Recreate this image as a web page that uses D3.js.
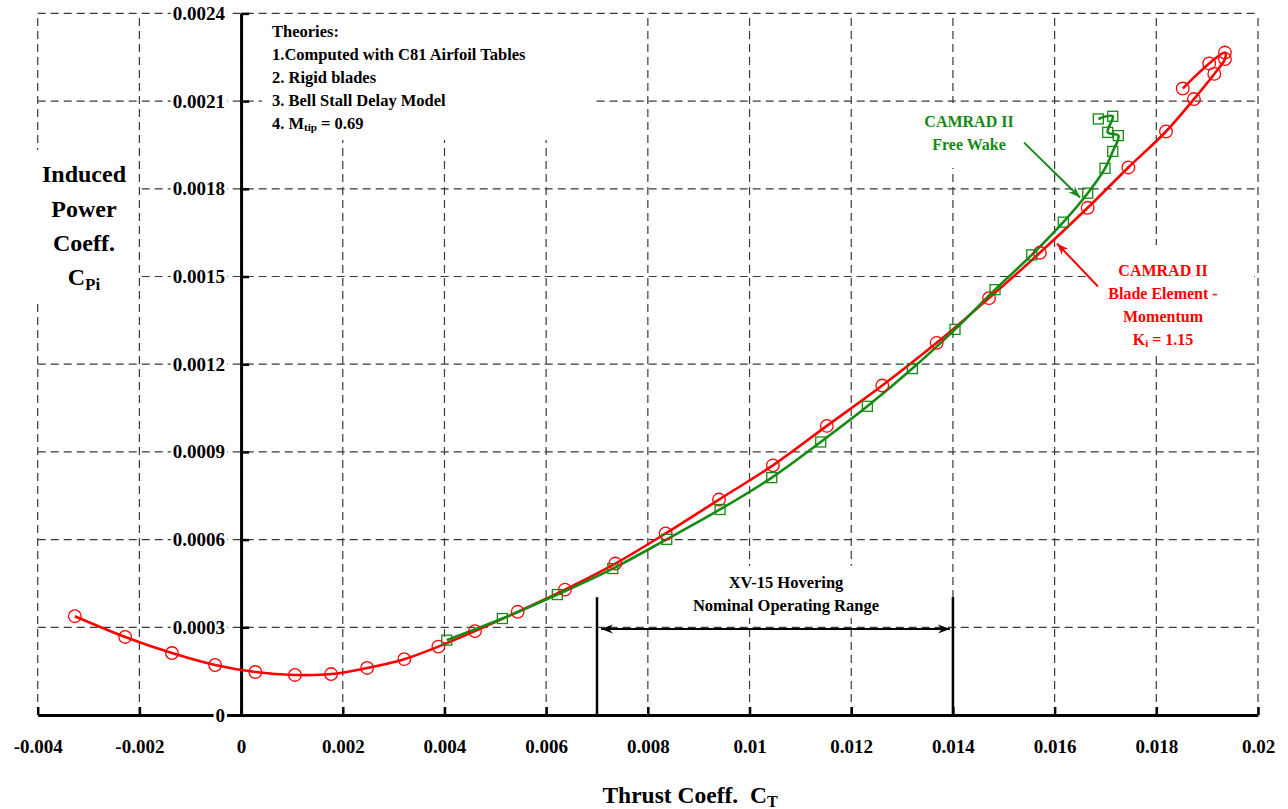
<!DOCTYPE html>
<html>
  <head>
    <title>Induced Power vs Thrust</title>
    <script src="https://cdn.jsdelivr.net/npm/d3@7"></script>
    <style>
      body { margin: 0; background: #fff; }
      text { font-family: "Liberation Serif", "Times New Roman", serif; font-weight: bold; }
    </style>
  </head>
  <body>
    <svg width="1288" height="809" id="mainsvg"></svg>
    <script>
        // CAMRAD II blade element - momentum (red circles)
        const bemCT = [-0.00327, -0.00228, -0.00136, -0.00051, 0.00028, 0.00106, 0.00177, 0.00248,
          0.00321, 0.00388, 0.0046, 0.00544, 0.00637, 0.00736, 0.00835, 0.0094, 0.01046, 0.01152,
          0.01261, 0.01368, 0.01471, 0.01571, 0.01665, 0.01745, 0.01819, 0.01874, 0.01914, 0.01935,
          0.01935, 0.01904, 0.01852];
        const bemCP = [0.000338, 0.000267, 0.000212, 0.000171, 0.000147, 0.000137, 0.00014, 0.000161,
          0.000191, 0.000234, 0.000287, 0.000353, 0.000429, 0.000518, 0.000621, 0.000737, 0.000854, 0.000989,
          0.001127, 0.001273, 0.001426, 0.001581, 0.001735, 0.001873, 0.001996, 0.002107, 0.002193, 0.002244,
          0.002266, 0.002229, 0.002143];
        // CAMRAD II free wake (green squares)
        const fwCT = [0.004045, 0.005139, 0.00622, 0.00731, 0.008372, 0.00942, 0.010437, 0.0114,
          0.012317, 0.013202, 0.014041, 0.014828, 0.01555, 0.016171, 0.016651, 0.016991, 0.017143,
          0.017253, 0.017044, 0.017143, 0.01686];
        const fwCP = [0.000256, 0.00033, 0.000412, 0.000501, 0.000601, 0.000703, 0.000812, 0.000934,
          0.001056, 0.001185, 0.001319, 0.001455, 0.001574, 0.001686, 0.001785, 0.00187, 0.001928,
          0.001982, 0.001993, 0.002048, 0.002039];

        const xTicks = [-0.004, -0.002, 0, 0.002, 0.004, 0.006, 0.008, 0.01, 0.012, 0.014, 0.016, 0.018, 0.02];
        const xTickLabels = ['-0.004', '-0.002', '0', '0.002', '0.004', '0.006', '0.008', '0.01', '0.012', '0.014', '0.016', '0.018', '0.02'];
        const yTicks = [0, 0.0003, 0.0006, 0.0009, 0.0012, 0.0015, 0.0018, 0.0021, 0.0024];
        const yTickLabels = ['0', '0.0003', '0.0006', '0.0009', '0.0012', '0.0015', '0.0018', '0.0021', '0.0024'];

        const theories = ['Theories:', '1.Computed with C81 Airfoil Tables', '2. Rigid blades', '3. Bell Stall Delay Model'];
        const operatingRange = [0.007, 0.014];

        const svg = d3.select('#mainsvg');
        const red = '#ff0000', green = '#158a15';

        const x = d3.scaleLinear().domain([-0.004, 0.02]).range([37.7, 1258]);
        const y = d3.scaleLinear().domain([0, 0.0024]).range([715, 13.4]);

        // grid
        const grid = svg.append('g').attr('stroke', '#3a3a3a').attr('stroke-width', 1.2)
          .attr('stroke-dasharray', '8,5');
        grid.selectAll('.vg').data(xTicks).join('line').attr('class', 'vg')
          .attr('x1', d => x(d)).attr('x2', d => x(d)).attr('y1', y(0)).attr('y2', y(0.0024));
        grid.selectAll('.hg').data(yTicks).join('line').attr('class', 'hg')
          .attr('y1', d => y(d)).attr('y2', d => y(d)).attr('x1', x(-0.004)).attr('x2', x(0.02));

        // white boxes that hide the grid under the text blocks
        const boxes = [[262, 15, 330, 125], [28, 150, 109, 153], [912, 103, 118, 65], [1088, 245, 166, 111], [688, 566, 198, 52]];
        svg.append('g').selectAll('rect').data(boxes).join('rect')
          .attr('x', d => d[0]).attr('y', d => d[1]).attr('width', d => d[2]).attr('height', d => d[3])
          .attr('fill', '#fff');

        // axes
        const xAxis = svg.append('g').attr('transform', `translate(0,${y(0)})`)
          .call(d3.axisBottom(x).tickValues(xTicks).tickFormat((d, i) => xTickLabels[i])
            .tickSizeInner(-8).tickSizeOuter(0).tickPadding(25));
        xAxis.select('.domain').attr('stroke', '#000').attr('stroke-width', 3);
        xAxis.selectAll('.tick line').attr('stroke', '#000').attr('stroke-width', 2.5);
        xAxis.selectAll('.tick text').attr('font-size', 19).attr('font-family', '"Liberation Serif", serif')
          .attr('font-weight', 'bold').attr('fill', '#000');

        const yAxis = svg.append('g').attr('transform', `translate(${x(0)},0)`)
          .call(d3.axisLeft(y).tickValues(yTicks).tickFormat((d, i) => yTickLabels[i])
            .tickSizeInner(-8).tickSizeOuter(0).tickPadding(16));
        yAxis.select('.domain').attr('stroke', '#000').attr('stroke-width', 3);
        yAxis.selectAll('.tick line').attr('stroke', '#000').attr('stroke-width', 2.5);
        yAxis.selectAll('.tick text').attr('font-size', 19).attr('font-family', '"Liberation Serif", serif')
          .attr('font-weight', 'bold').attr('fill', '#000');
        yAxis.selectAll('.tick').each(function () {
          const t = d3.select(this).select('text');
          const b = t.node().getBBox();
          d3.select(this).insert('rect', 'text')
            .attr('x', b.x - 2).attr('y', b.y + 2).attr('width', b.width + 4).attr('height', b.height - 4)
            .attr('fill', '#fff');
        });

        // arrow markers
        const defs = svg.append('defs');
        [['arrRed', red], ['arrGreen', green], ['arrBlack', '#000']].forEach(([id, c]) => {
          defs.append('marker').attr('id', id).attr('viewBox', '-12 -6 14 12')
            .attr('refX', 0).attr('refY', 0).attr('markerWidth', 14).attr('markerHeight', 12)
            .attr('markerUnits', 'userSpaceOnUse').attr('orient', 'auto-start-reverse')
            .append('path').attr('d', 'M0,0 L-12,-4.5 L-8,0 L-12,4.5 Z').attr('fill', c);
        });

        // curves
        const bem = bemCT.map((d, i) => [d, bemCP[i]]);
        const fw = fwCT.map((d, i) => [d, fwCP[i]]);
        const line = d3.line().x(d => x(d[0])).y(d => y(d[1])).curve(d3.curveCatmullRom.alpha(0.5));

        svg.append('path').datum(bem).attr('d', line).attr('fill', 'none')
          .attr('stroke', red).attr('stroke-width', 2.6);
        svg.append('path').datum(fw).attr('d', line).attr('fill', 'none')
          .attr('stroke', green).attr('stroke-width', 2.6);

        svg.append('g').selectAll('circle').data(bem).join('circle')
          .attr('cx', d => x(d[0])).attr('cy', d => y(d[1])).attr('r', 6.3)
          .attr('fill', 'none').attr('stroke', red).attr('stroke-width', 1.3);
        svg.append('g').selectAll('rect').data(fw).join('rect')
          .attr('x', d => x(d[0]) - 5).attr('y', d => y(d[1]) - 5).attr('width', 10).attr('height', 10)
          .attr('fill', 'none').attr('stroke', green).attr('stroke-width', 1.3);

        // theories legend
        const leg = svg.append('g').attr('font-size', 16.5).attr('fill', '#000');
        theories.forEach((t, i) => leg.append('text').attr('x', 272).attr('y', 37 + i * 23).text(t));
        const m = leg.append('text').attr('x', 272).attr('y', 37 + 4 * 23);
        m.append('tspan').text('4. M');
        m.append('tspan').attr('font-size', 11).attr('dy', 2).text('tip');
        m.append('tspan').attr('dy', -2).text(' = 0.69');

        // axis titles
        const yt = svg.append('g').attr('font-size', 24).attr('text-anchor', 'middle').attr('fill', '#000');
        ['Induced', 'Power', 'Coeff.'].forEach((t, i) => yt.append('text').attr('x', 84).attr('y', 182 + i * 34.5).text(t));
        const cpi = yt.append('text').attr('x', 84).attr('y', 285);
        cpi.append('tspan').text('C');
        cpi.append('tspan').attr('font-size', 17).attr('dy', 5).text('Pi');

        const xt = svg.append('text').attr('x', 690).attr('y', 803).attr('font-size', 23.5)
          .attr('text-anchor', 'middle').attr('fill', '#000');
        xt.append('tspan').text('Thrust Coeff.\u00a0\u00a0C');
        xt.append('tspan').attr('font-size', 16).attr('dy', 4).text('T');

        // free wake annotation
        const gl = svg.append('g').attr('font-size', 16).attr('text-anchor', 'middle').attr('fill', green);
        gl.append('text').attr('x', 969).attr('y', 127).text('CAMRAD II');
        gl.append('text').attr('x', 969).attr('y', 150).text('Free Wake');
        svg.append('line').attr('x1', x(0.0154)).attr('y1', y(0.001958)).attr('x2', x(0.0165)).attr('y2', y(0.00177))
          .attr('stroke', green).attr('stroke-width', 2).attr('marker-end', 'url(#arrGreen)');

        // BEM annotation
        const rl = svg.append('g').attr('font-size', 16).attr('text-anchor', 'middle').attr('fill', red);
        ['CAMRAD II', 'Blade Element -', 'Momentum'].forEach((t, i) =>
          rl.append('text').attr('x', 1163).attr('y', 276 + i * 23).text(t));
        const ki = rl.append('text').attr('x', 1163).attr('y', 276 + 3 * 23);
        ki.append('tspan').text('K');
        ki.append('tspan').attr('font-size', 11).attr('dy', 2).text('i');
        ki.append('tspan').attr('dy', -2).text(' = 1.15');
        svg.append('line').attr('x1', x(0.016853)).attr('y1', y(0.001466)).attr('x2', x(0.016047)).attr('y2', y(0.001613))
          .attr('stroke', red).attr('stroke-width', 2).attr('marker-end', 'url(#arrRed)');

        // nominal operating range
        svg.append('g').selectAll('line').data(operatingRange).join('line')
          .attr('x1', d => x(d)).attr('x2', d => x(d)).attr('y1', y(0)).attr('y2', y(0.000403))
          .attr('stroke', '#000').attr('stroke-width', 2.5);
        svg.append('line').attr('x1', x(operatingRange[0]) + 4).attr('x2', x(operatingRange[1]) - 3)
          .attr('y1', y(0.000294)).attr('y2', y(0.000294))
          .attr('stroke', '#000').attr('stroke-width', 2)
          .attr('marker-start', 'url(#arrBlack)').attr('marker-end', 'url(#arrBlack)');
        const rg = svg.append('g').attr('font-size', 16.5).attr('text-anchor', 'middle').attr('fill', '#000');
        rg.append('text').attr('x', 786).attr('y', 588).text('XV-15 Hovering');
        rg.append('text').attr('x', 786).attr('y', 611).text('Nominal Operating Range');
    </script>
  </body>
</html>
